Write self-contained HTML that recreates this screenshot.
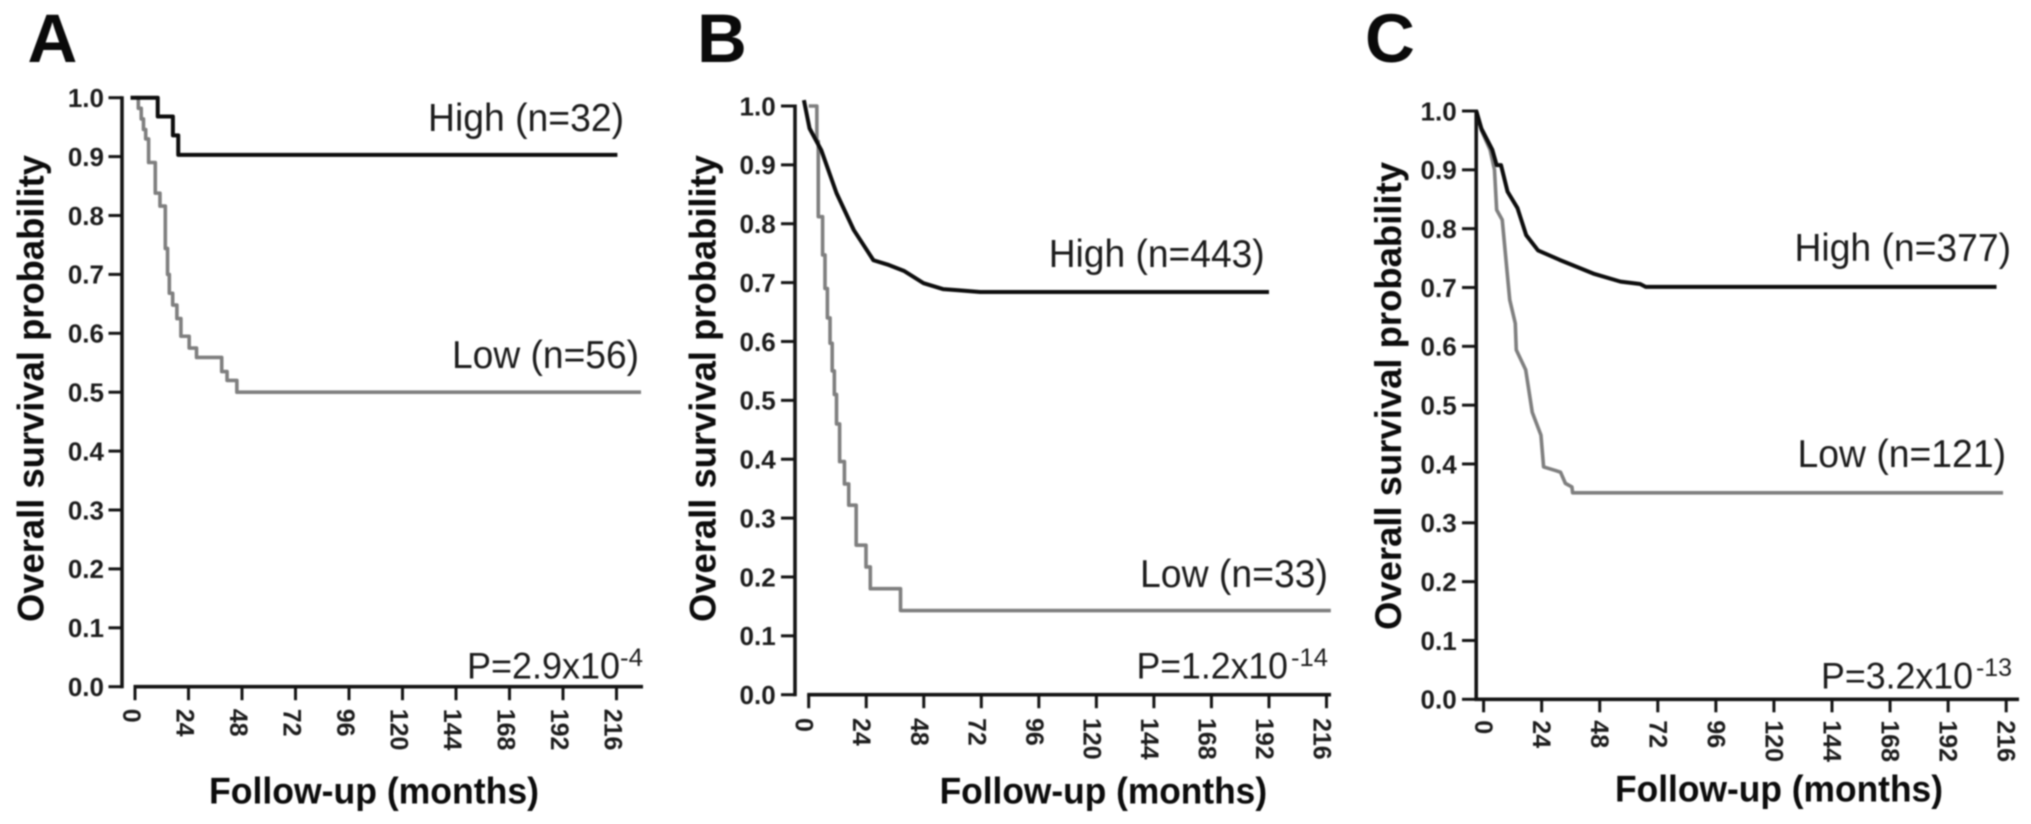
<!DOCTYPE html>
<html lang="en">
<head>
<meta charset="utf-8">
<title>Overall survival by expression group</title>
<style>
html,body{margin:0;padding:0;background:#fff;width:2031px;height:824px;overflow:hidden}
svg{display:block;filter:blur(0.7px)}
text{font-family:"Liberation Sans",Arial,sans-serif;fill:#1a1a1a}
.panel-letter{font-size:69px;font-weight:700;fill:#0a0a0a}
.y-title,.x-title{font-size:37px;font-weight:700;fill:#0c0c0c}
.series-label{font-size:39px;fill:#1c1c1c}
.p-main{font-size:37px;fill:#1c1c1c}
.p-exp{font-size:25px;fill:#1c1c1c}
.tick-y{font-size:26px;font-weight:700;fill:#1c1c1c}
.tick-x{font-size:25px;font-weight:700;fill:#1c1c1c}
</style>
</head>
<body>
<svg id="figure" xmlns="http://www.w3.org/2000/svg" width="2031" height="824" viewBox="0 0 2031 824">
  <rect width="2031" height="824" fill="#fff"/>

  <g id="panel-a">
    <text class="panel-letter" x="27.5" y="62">A</text>
    <text class="y-title" transform="translate(43.5 622) rotate(-90)" textLength="467" lengthAdjust="spacingAndGlyphs">Overall survival probability</text>
    <text class="x-title" x="209" y="803.7" textLength="330" lengthAdjust="spacingAndGlyphs">Follow-up (months)</text>
    <text class="series-label" x="428" y="131" textLength="196" lengthAdjust="spacingAndGlyphs">High (n=32)</text>
    <text class="series-label" x="452" y="368" textLength="187" lengthAdjust="spacingAndGlyphs">Low (n=56)</text>
    <text class="p-main" x="467" y="678.7" textLength="153" lengthAdjust="spacingAndGlyphs">P=2.9x10</text>
    <text class="p-exp" x="620" y="666" textLength="23" lengthAdjust="spacingAndGlyphs">-4</text>
  </g>

  <g id="panel-b">
    <text class="panel-letter" x="697" y="62">B</text>
    <text class="y-title" transform="translate(715.6 622) rotate(-90)" textLength="467" lengthAdjust="spacingAndGlyphs">Overall survival probability</text>
    <text class="x-title" x="939.6" y="803.7" textLength="327.5" lengthAdjust="spacingAndGlyphs">Follow-up (months)</text>
    <text class="series-label" x="1048.7" y="267" textLength="216" lengthAdjust="spacingAndGlyphs">High (n=443)</text>
    <text class="series-label" x="1140" y="587" textLength="188" lengthAdjust="spacingAndGlyphs">Low (n=33)</text>
    <text class="p-main" x="1136.5" y="678.7" textLength="151.5" lengthAdjust="spacingAndGlyphs">P=1.2x10</text>
    <text class="p-exp" x="1291" y="666" textLength="37" lengthAdjust="spacingAndGlyphs">-14</text>
  </g>

  <g id="panel-c">
    <text class="panel-letter" x="1365" y="62">C</text>
    <text class="y-title" transform="translate(1401 630) rotate(-90)" textLength="468" lengthAdjust="spacingAndGlyphs">Overall survival probability</text>
    <text class="x-title" x="1615" y="801.3" textLength="328" lengthAdjust="spacingAndGlyphs">Follow-up (months)</text>
    <text class="series-label" x="1794.5" y="261" textLength="216.5" lengthAdjust="spacingAndGlyphs">High (n=377)</text>
    <text class="series-label" x="1797.5" y="467" textLength="208.5" lengthAdjust="spacingAndGlyphs">Low (n=121)</text>
    <text class="p-main" x="1821" y="688.7" textLength="152" lengthAdjust="spacingAndGlyphs">P=3.2x10</text>
    <text class="p-exp" x="1976" y="676" textLength="36" lengthAdjust="spacingAndGlyphs">-13</text>
  </g>
</svg>

<script>
// Axis tick values
const monthTicks = [0, 24, 48, 72, 96, 120, 144, 168, 192, 216];
const survivalTicks = [0, 0.1, 0.2, 0.3, 0.4, 0.5, 0.6, 0.7, 0.8, 0.9, 1];

// Panel A series (Kaplan-Meier steps)
const aHighMonths = [-2, 10.2, 17, 19.4, 216.4];
const aHighSurvival = [1, 0.968, 0.936, 0.903, 0.903];
const aLowMonths = [0, 1.5, 2.8, 3.8, 4.8, 6.1, 9.1, 11.2, 13.6, 14.6, 15.4, 16.9, 18.8, 20.6, 24.3, 27.6, 38.9, 41.3, 45.7, 227];
const aLowSurvival = [1, 0.982, 0.964, 0.946, 0.93, 0.89, 0.838, 0.816, 0.744, 0.7, 0.668, 0.648, 0.625, 0.595, 0.575, 0.559, 0.535, 0.52, 0.5, 0.5];

// Panel B series
const bHighMonths = [-2, 0.35, 5.25, 11.6, 18.85, 27, 33.4, 39.7, 47.9, 56, 62.4, 71.5, 192];
const bHighSurvival = [1.01, 0.962, 0.925, 0.852, 0.789, 0.738, 0.73, 0.72, 0.699, 0.689, 0.687, 0.684, 0.684];
const bLowMonths = [0, 3.4, 4, 5.8, 6.8, 7.8, 8.9, 9.8, 10.7, 11.6, 12.9, 14.9, 16.7, 19.8, 23.9, 25.7, 38.3, 217.8];
const bLowSurvival = [1, 0.94, 0.812, 0.747, 0.69, 0.64, 0.597, 0.55, 0.51, 0.46, 0.396, 0.358, 0.322, 0.254, 0.217, 0.18, 0.143, 0.143];

// Panel C series
const cHighMonths = [-3, -0.9, 3.6, 5.4, 7.2, 9.9, 14, 17.6, 22.5, 31.4, 45.8, 56.6, 64.7, 67, 212];
const cHighSurvival = [1, 0.97, 0.934, 0.908, 0.908, 0.863, 0.835, 0.789, 0.763, 0.747, 0.723, 0.71, 0.706, 0.701, 0.701];
const cLowMonths = [-3, -0.9, 2.7, 4.5, 5.4, 7.7, 10.8, 13.1, 13.5, 17.4, 20.1, 23.7, 24.8, 29.6, 31.8, 33.8, 36.5, 36.8, 214.7];
const cLowSurvival = [1, 0.967, 0.934, 0.9, 0.832, 0.815, 0.679, 0.639, 0.594, 0.56, 0.488, 0.449, 0.395, 0.389, 0.386, 0.367, 0.361, 0.351, 0.351];

const NS = 'http://www.w3.org/2000/svg';

function makeEl(tag, attrs, parent) {
  const el = document.createElementNS(NS, tag);
  for (const k in attrs) el.setAttribute(k, attrs[k]);
  parent.appendChild(el);
  return el;
}

function drawPanel(cfg) {
  const root = document.getElementById(cfg.id);
  const sx = m => cfg.x0 + (m / 216) * (cfg.x216 - cfg.x0);
  const sy = p => cfg.y0 + p * (cfg.y1 - cfg.y0);
  const axisColor = '#141414';

  const yAxis = makeEl('line', {x1: cfg.yAxisX, x2: cfg.yAxisX, y1: sy(1) - 1.5, y2: sy(0) + 1.5, stroke: axisColor, 'stroke-width': 3.6}, root);
  
  

  const xAxis = makeEl('line', {x1: cfg.xAxisStart, x2: cfg.xAxisEnd, y1: sy(0), y2: sy(0), stroke: axisColor, 'stroke-width': 3.6}, root);
  
  

  survivalTicks.forEach(p => {
    const t = makeEl('line', {x1: cfg.yTickStart, x2: cfg.yAxisX, y1: sy(p), y2: sy(p), stroke: axisColor, 'stroke-width': 3}, root);
    
    
    const l = makeEl('text', {class: 'tick-y', x: cfg.yLabelRight, y: sy(p) + 9.3, 'text-anchor': 'end'}, root);
    
    
    l.textContent = p.toFixed(1);
  });

  monthTicks.forEach(m => {
    const x = sx(m);
    const t = makeEl('line', {x1: x, x2: x, y1: sy(0), y2: sy(0) + cfg.xTickLen, stroke: axisColor, 'stroke-width': 3}, root);
    
    
    const l = makeEl('text', {class: 'tick-x', transform: 'translate(' + (x + cfg.xLabelShift) + ' ' + (sy(0) + cfg.xLabelGap) + ') rotate(90)'}, root);
    
    
    l.textContent = String(m);
  });

  cfg.series.forEach(s => {
    let d = 'M' + sx(s.months[0]).toFixed(2) + ' ' + sy(s.survival[0]).toFixed(2);
    for (let i = 1; i < s.months.length; i++) {
      if (s.step) {
        d += 'H' + sx(s.months[i]).toFixed(2) + 'V' + sy(s.survival[i]).toFixed(2);
      } else {
        d += 'L' + sx(s.months[i]).toFixed(2) + ' ' + sy(s.survival[i]).toFixed(2);
      }
    }
    const path = makeEl('path', {d: d, fill: 'none', stroke: s.color, 'stroke-width': s.width, 'stroke-linejoin': 'round'}, root);
    
    
  });
}

drawPanel({
  id: 'panel-a', x0: 135, x216: 616.5, y0: 686.7, y1: 97.7,
  yAxisX: 122, xAxisStart: 133.5, xAxisEnd: 643, yTickStart: 108.5, yLabelRight: 104,
  xTickLen: 13.5, xLabelShift: -12, xLabelGap: 22,
  series: [
    {name: 'panel-a-low-curve', months: aLowMonths, survival: aLowSurvival, step: true, color: '#7f7f7f', width: 3.6},
    {name: 'panel-a-high-curve', months: aHighMonths, survival: aHighSurvival, step: true, color: '#0d0d0d', width: 4}
  ]
});

drawPanel({
  id: 'panel-b', x0: 808.7, x216: 1326.5, y0: 694.7, y1: 106,
  yAxisX: 795, xAxisStart: 807.2, xAxisEnd: 1331, yTickStart: 781, yLabelRight: 775.7,
  xTickLen: 13.5, xLabelShift: -13, xLabelGap: 23.3,
  series: [
    {name: 'panel-b-low-curve', months: bLowMonths, survival: bLowSurvival, step: true, color: '#7f7f7f', width: 3.6},
    {name: 'panel-b-high-curve', months: bHighMonths, survival: bHighSurvival, step: false, color: '#0d0d0d', width: 4}
  ]
});

drawPanel({
  id: 'panel-c', x0: 1483.6, x216: 2006.2, y0: 699.3, y1: 111,
  yAxisX: 1476.2, xAxisStart: 1474.5, xAxisEnd: 2019, yTickStart: 1462, yLabelRight: 1456.7,
  xTickLen: 13, xLabelShift: -8.5, xLabelGap: 21,
  series: [
    {name: 'panel-c-low-curve', months: cLowMonths, survival: cLowSurvival, step: false, color: '#7f7f7f', width: 3.6},
    {name: 'panel-c-high-curve', months: cHighMonths, survival: cHighSurvival, step: false, color: '#0d0d0d', width: 4}
  ]
});
</script>
</body>
</html>
